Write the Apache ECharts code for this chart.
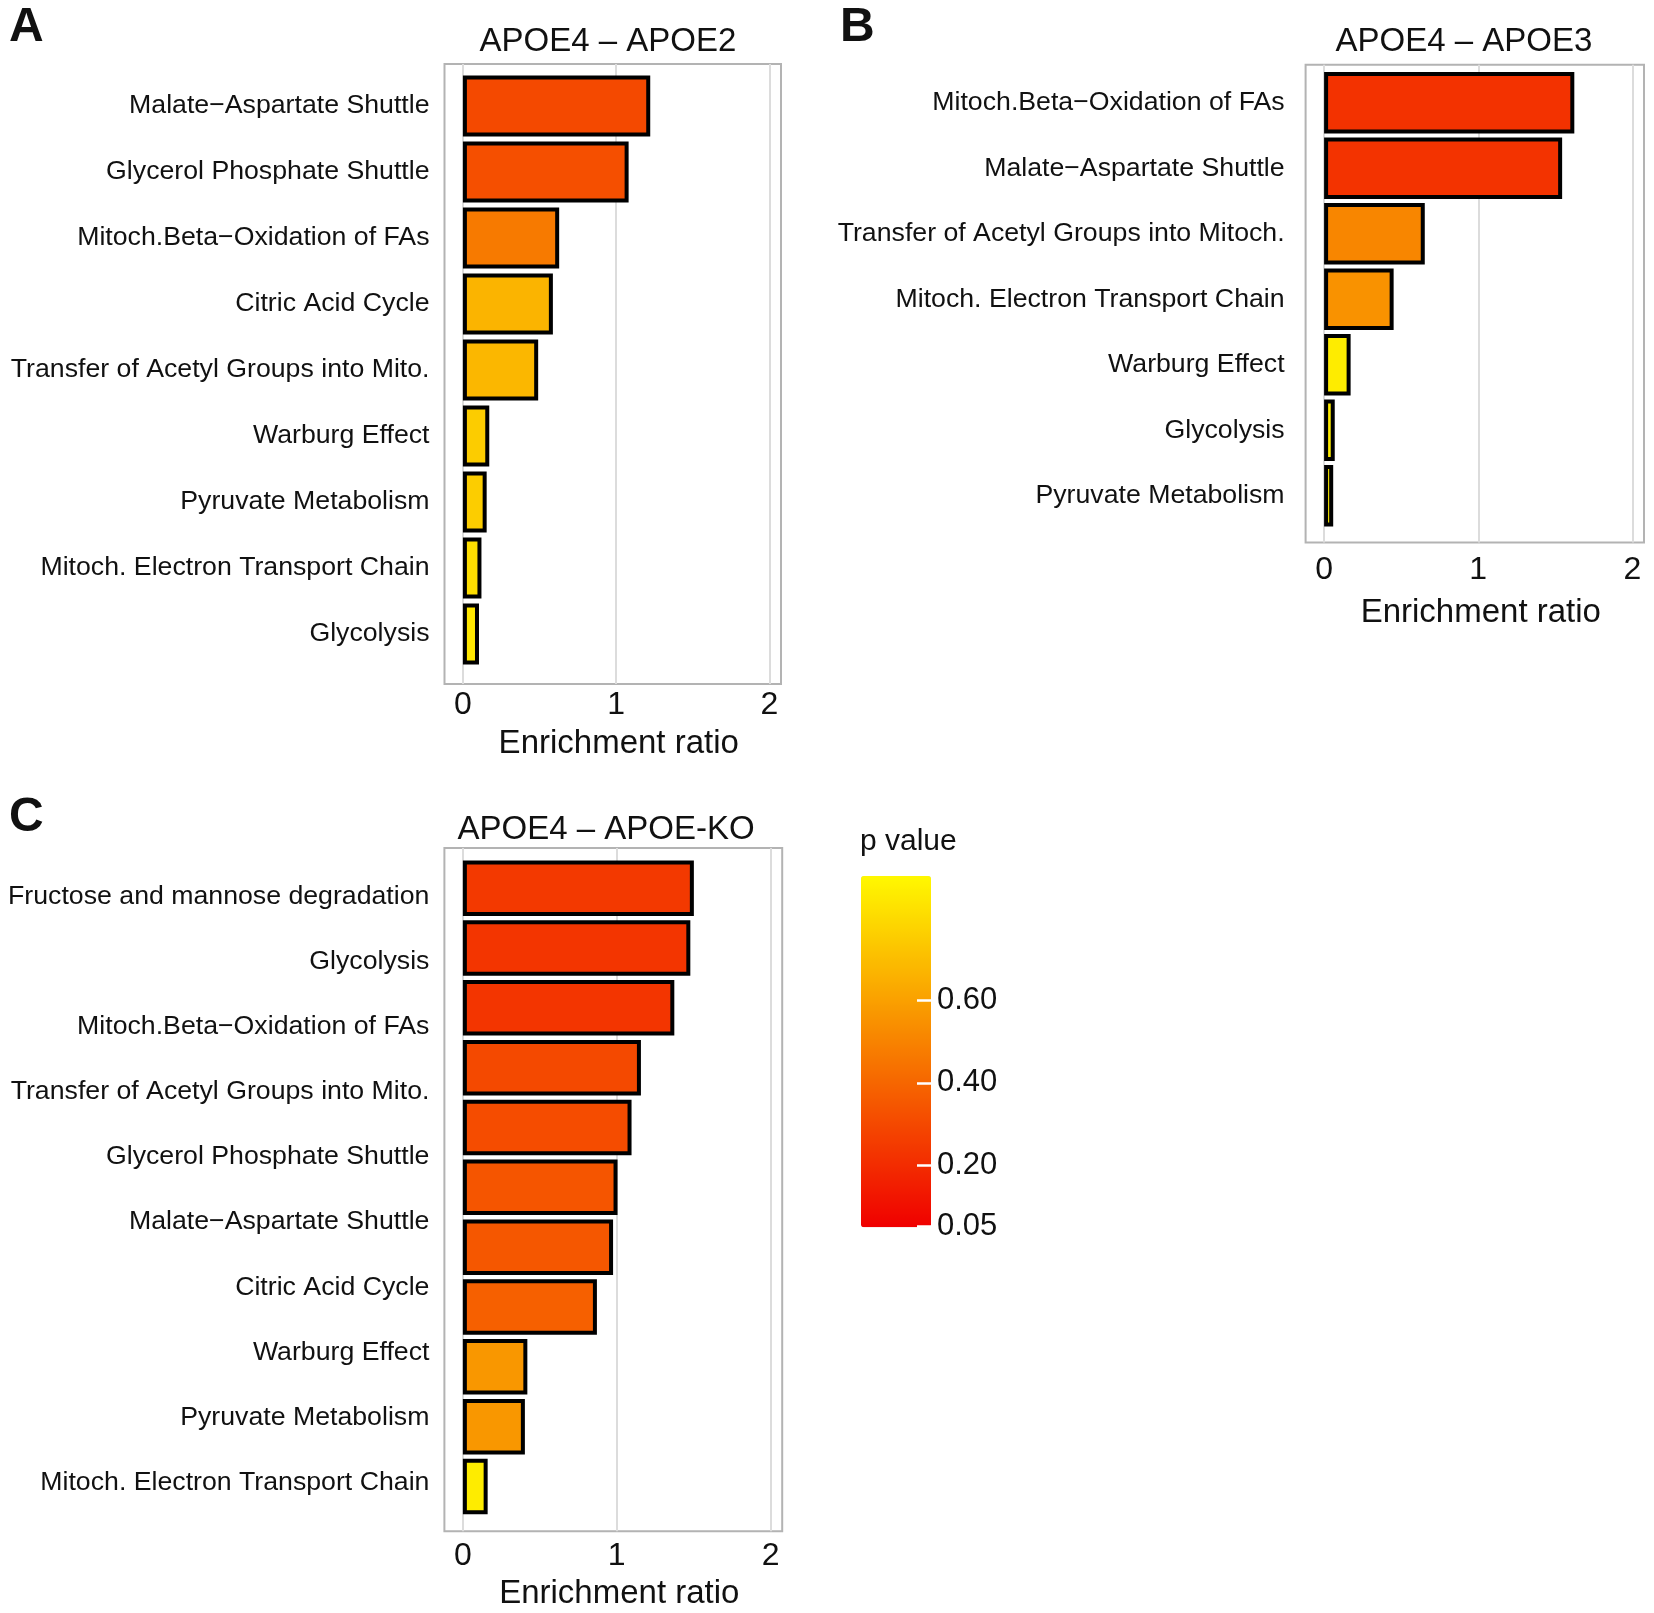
<!DOCTYPE html>
<html>
<head>
<meta charset="utf-8">
<title>Enrichment ratio</title>
<script src="https://cdn.jsdelivr.net/npm/echarts@6/dist/echarts.min.js"></script>
<style>
  html, body { margin: 0; padding: 0; background: #fff; }
  #chart { width: 1654px; height: 1613px; }
</style>
</head>
<body>
<div id="chart"></div>
<script>
// A: APOE4 - APOE2
var namesA = ['Malate\u2212Aspartate Shuttle', 'Glycerol Phosphate Shuttle', 'Mitoch.Beta\u2212Oxidation of FAs',
  'Citric Acid Cycle', 'Transfer of Acetyl Groups into Mito.', 'Warburg Effect', 'Pyruvate Metabolism',
  'Mitoch. Electron Transport Chain', 'Glycolysis'];
var ratioA = [1.222, 1.081, 0.628, 0.587, 0.491, 0.172, 0.155, 0.121, 0.105];
var pA = [0.30, 0.32, 0.47, 0.67, 0.68, 0.75, 0.755, 0.81, 0.84];

// B: APOE4 - APOE3
var namesB = ['Mitoch.Beta\u2212Oxidation of FAs', 'Malate\u2212Aspartate Shuttle', 'Transfer of Acetyl Groups into Mitoch.',
  'Mitoch. Electron Transport Chain', 'Warburg Effect', 'Glycolysis', 'Pyruvate Metabolism'];
var ratioB = [1.623, 1.544, 0.653, 0.451, 0.172, 0.069, 0.059];
var pB = [0.22, 0.225, 0.51, 0.55, 0.86, 0.86, 0.87];

// C: APOE4 - APOE-KO (the figure shows 11 bars but only 10 labels)
var namesC = ['Fructose and mannose degradation', 'Glycolysis', 'Mitoch.Beta\u2212Oxidation of FAs',
  'Transfer of Acetyl Groups into Mito.', 'Glycerol Phosphate Shuttle', 'Malate\u2212Aspartate Shuttle',
  'Citric Acid Cycle', 'Warburg Effect', 'Pyruvate Metabolism', 'Mitoch. Electron Transport Chain'];
var ratioC = [1.501, 1.478, 1.374, 1.157, 1.096, 1.005, 0.976, 0.871, 0.419, 0.403, 0.161];
var pC = [0.245, 0.23, 0.23, 0.30, 0.31, 0.34, 0.35, 0.38, 0.57, 0.57, 0.86];

var xTicks = [0, 1, 2];
var pTicks = [0.05, 0.20, 0.40, 0.60];
var pRange = [0.0486, 0.903];

var SANS = 'Liberation Sans, Arial, sans-serif';
var xMin = -0.12, xMax = 2.075;
var labelFont = { fontSize: 26.7, color: '#111', fontFamily: SANS };

var layout = [
  { names: namesA, ratio: ratioA, p: pA, left: 444.5, top: 64, width: 336.5, height: 620,
    barTop: 73, barHeight: 594, barWidth: 61, labelGap: 15, tickGap: 5, nameGap: 43 },
  { names: namesB, ratio: ratioB, p: pB, left: 1305.6, top: 64.7, width: 338.4, height: 477.7,
    barTop: 70, barHeight: 458.5, barWidth: 61.5, labelGap: 21, tickGap: 12, nameGap: 54 },
  { names: null, ratio: ratioC, p: pC, left: 444.4, top: 848, width: 337.8, height: 683.2,
    barTop: 858.3, barHeight: 658.1, barWidth: 55.5, labelGap: 15, tickGap: 9, nameGap: 46 }
];

var grids = [], xAxes = [], yAxes = [], series = [];

layout.forEach(function (L) {
  var gi = grids.length;
  var cats = L.names ? L.names : L.ratio.map(function (v, i) { return 'bar' + i; });
  // frame with gridlines and x axis
  grids.push({ left: L.left, top: L.top, width: L.width, height: L.height, show: true, outerBoundsMode: 'none',
    borderColor: '#b3b3b3', borderWidth: 2, backgroundColor: 'transparent' });
  xAxes.push({ gridIndex: gi, type: 'value', min: xMin, max: xMax,
    name: 'Enrichment ratio', nameLocation: 'middle', nameGap: L.nameGap,
    nameTextStyle: { fontSize: 33, color: '#111', fontFamily: SANS, padding: [0, 0, 0, 12] },
    axisLine: { show: false },
    axisTick: { show: false, customValues: xTicks },
    axisLabel: { customValues: xTicks, margin: L.tickGap, fontSize: 32, color: '#111', fontFamily: SANS },
    splitLine: { show: true, lineStyle: { color: '#dcdcdc', width: 2 } } });
  yAxes.push({ gridIndex: gi, type: 'value', min: 0, max: 1, show: false });
  // bars
  grids.push({ left: L.left, top: L.barTop, width: L.width, height: L.barHeight, outerBoundsMode: 'none' });
  xAxes.push({ gridIndex: gi + 1, type: 'value', min: xMin, max: xMax, show: false });
  yAxes.push({ gridIndex: gi + 1, type: 'category', inverse: true, data: cats,
    axisLine: { show: false }, axisTick: { show: false },
    axisLabel: Object.assign({ show: !!L.names, interval: 0, margin: L.labelGap }, labelFont) });
  series.push({ type: 'bar', xAxisIndex: gi + 1, yAxisIndex: gi + 1,
    data: L.ratio.map(function (v, i) { return [v, cats[i], L.p[i]]; }),
    encode: { x: 0, y: 1 }, barWidth: L.barWidth,
    itemStyle: { borderColor: '#000', borderWidth: 4 } });
});

// labels of panel C, spread evenly as in the figure
var gl = grids.length;
grids.push({ left: 444.4, top: 896.5, width: 337.8, height: 586, outerBoundsMode: 'none' });
xAxes.push({ gridIndex: gl, type: 'value', show: false });
yAxes.push({ gridIndex: gl, type: 'category', inverse: true, boundaryGap: false, data: namesC,
  axisLine: { show: false }, axisTick: { show: false }, splitLine: { show: false },
  axisLabel: Object.assign({ interval: 0, margin: 15 }, labelFont) });

// colour bar labels
var gp = grids.length;
grids.push({ left: 861, top: 876, width: 70, height: 351.3, outerBoundsMode: 'none' });
xAxes.push({ gridIndex: gp, type: 'value', show: false });
yAxes.push({ gridIndex: gp, type: 'value', min: pRange[0], max: pRange[1], position: 'right', z: 20,
  axisLine: { show: false }, splitLine: { show: false }, axisTick: { show: false, customValues: pTicks },
  axisLabel: { customValues: pTicks, margin: 6, fontSize: 31, color: '#111', fontFamily: SANS,
    formatter: function (v) { return v.toFixed(2); } } });

// colour bar tick marks (white, on the right edge of the bar)
var gt = grids.length;
grids.push({ left: 931, top: 876, width: 1, height: 351.3, outerBoundsMode: 'none' });
xAxes.push({ gridIndex: gt, type: 'value', show: false });
yAxes.push({ gridIndex: gt, type: 'value', min: pRange[0], max: pRange[1], position: 'left', z: 20,
  axisLine: { show: false }, splitLine: { show: false },
  axisTick: { show: true, inside: false, length: 14, customValues: pTicks, lineStyle: { color: '#fff', width: 2.5 } },
  axisLabel: { show: false, customValues: pTicks } });

var titleFont = { fontSize: 33, fontWeight: 'normal', color: '#111', fontFamily: SANS };
var letterFont = { fontSize: 48, fontWeight: 'bold', color: '#111', fontFamily: SANS };

var option = {
  backgroundColor: '#fff',
  animation: false,
  title: [
    { text: 'A', left: 9, top: 4, padding: 0, textStyle: letterFont },
    { text: 'B', left: 840, top: 4, padding: 0, textStyle: letterFont },
    { text: 'C', left: 9, top: 794, padding: 0, textStyle: letterFont },
    { text: 'APOE4 \u2013 APOE2', left: 608, top: 25, padding: 0, textAlign: 'center', textStyle: titleFont },
    { text: 'APOE4 \u2013 APOE3', left: 1464, top: 25, padding: 0, textAlign: 'center', textStyle: titleFont },
    { text: 'APOE4 \u2013 APOE-KO', left: 606, top: 813, padding: 0, textAlign: 'center', textStyle: titleFont },
    { text: 'p value', left: 860, top: 827, padding: 0, textStyle: { fontSize: 30, fontWeight: 'normal', color: '#111', fontFamily: SANS } }
  ],
  grid: grids,
  xAxis: xAxes,
  yAxis: yAxes,
  visualMap: {
    type: 'continuous', min: pRange[0], max: pRange[1], dimension: 2, seriesIndex: [0, 1, 2],
    calculable: false, left: 861, top: 876, itemWidth: 70, itemHeight: 351.3, padding: 0, z: 2,
    inRange: { color: ['#f00000', '#fff800'] }
  },
  series: series
};

var chart = echarts.init(document.getElementById('chart'), null, { renderer: 'canvas' });
chart.setOption(option);
</script>
</body>
</html>
